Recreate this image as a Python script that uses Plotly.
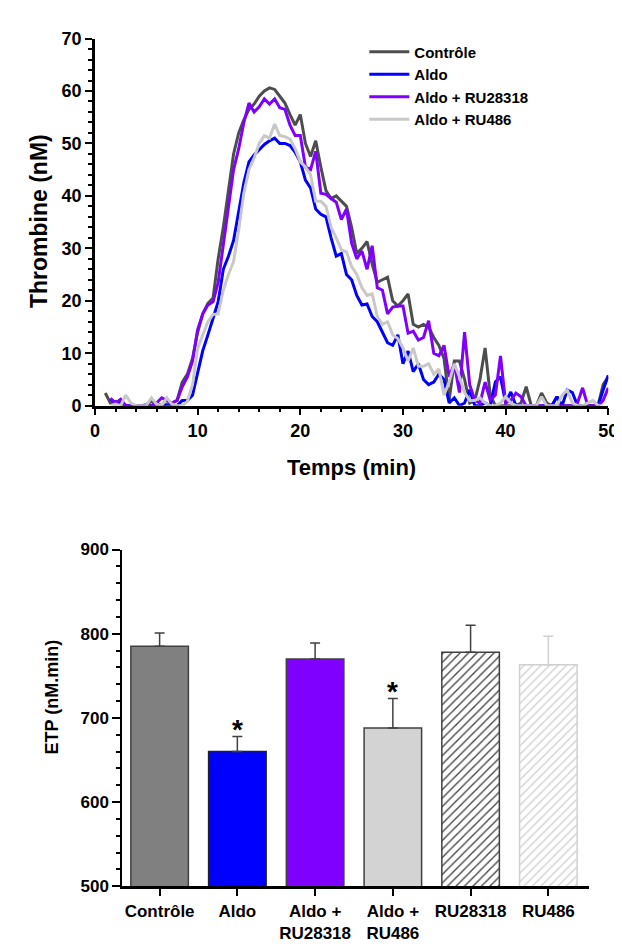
import plotly.graph_objects as go

# ---------------- DATA ----------------
# Thrombin generation curves (nM), sampled every 0.5 min from 1.0 to 50.0 min
temps = [1.0 + 0.5 * i for i in range(99)]

controle = [
    2.4, 0.5, 0.8, 0.3, 0, 0, 0, 0, 0.2, 0.8,
    0.3, 0, 0.3, 0.5, 1.0, 4.5, 6.0, 9.0, 14.0, 17.5,
    19.5, 20.5, 28.0, 34.0, 41.0, 48.0, 52.0, 54.5, 56.5, 57.5,
    59.0, 60.0, 60.6, 60.3, 59.0, 57.7, 55.5, 53.5, 55.5, 50.0,
    47.5, 50.5, 45.5, 41.0, 39.5, 40.0, 39.0, 38.0, 34.0, 29.0,
    30.0, 31.3, 27.0, 23.5, 24.0, 24.5, 20.0, 19.0, 20.0, 21.3,
    15.5, 15.0, 15.5, 15.0, 13.0, 11.5, 9.0, 1.0, 8.5, 8.5,
    5.0, 0.5, 1.0, 5.0, 11.0, 2.0, 0, 0, 0, 0,
    0, 0.5, 3.6, 0, 0, 2.4, 0.5, 0, 1.7, 0,
    0, 0, 0, 0, 0, 0, 0, 4.0, 5.5,
]
aldo = [
    None, 1.3, 0.5, 1.0, 0, 0, 0, 0, 0, 0,
    0.3, 0, 0, 0, 0, 1.0, 1.0, 2.0, 6.5, 10.5,
    13.5, 16.5, 19.8, 26.0, 28.5, 31.5, 37.0, 42.5, 46.5, 47.8,
    48.8, 49.8, 50.5, 51.0, 50.0, 50.0, 49.6, 48.3, 46.5, 43.0,
    41.5, 37.5, 36.5, 36.0, 32.0, 28.5, 29.0, 25.0, 24.0, 21.0,
    19.2, 19.4, 17.0, 16.0, 14.0, 12.0, 11.5, 13.5, 8.0, 10.4,
    6.5, 8.0, 5.0, 4.0, 4.5, 6.0, 5.0, 0.5, 1.5, 0,
    0.5, 3.0, 0, 0, 0.5, 0, 4.5, 5.5, 0.5, 2.6,
    0, 0, 0, 0, 0, 0, 0, 0, 1.7, 0,
    3.0, 2.5, 0, 0, 0, 0, 0, 3.0, 5.8,
]
aldo_ru28318 = [
    None, 1.4, 0.5, 1.2, 0, 0, 0, 0, 0, 0,
    0.5, 1.5, 1.0, 0.5, 1.0, 3.6, 5.5, 8.5, 14.5, 17.5,
    19.2, 19.8, 23.5, 31.0, 38.0, 45.0, 49.0, 54.0, 57.7, 56.0,
    57.0, 58.5, 57.5, 58.5, 56.8, 56.5, 53.5, 51.5, 51.5, 45.5,
    45.0, 48.5, 40.5, 40.3, 39.5, 38.8, 35.5, 37.5, 31.0, 28.0,
    29.5, 26.0, 30.5, 22.5, 22.0, 17.5, 18.8, 19.0, 19.0, 13.8,
    14.2, 12.5, 13.0, 16.2, 10.0, 9.5, 11.5, 5.5, 8.0, 2.5,
    14.0, 4.0, 1.0, 0.5, 4.5, 1.0, 2.0, 9.5, 0.5, 1.0,
    2.4, 1.7, 0, 0, 0, 0, 0, 0, 0, 0,
    0, 0, 0.5, 3.4, 0, 0, 0, 1.0, 3.4,
]
aldo_ru486 = [
    None, 0, 0.3, 0, 2.0, 0.5, 0, 0, 0, 1.5,
    0.3, 0, 1.5, 0.3, 0, 0, 0.8, 4.0, 10.8, 13.5,
    16.0, 17.4, 17.5, 22.0, 25.0, 27.5, 33.5, 40.5, 45.0, 47.2,
    50.0, 51.5, 51.0, 53.7, 51.5, 51.3, 50.8, 49.0, 46.5, 45.5,
    44.0, 39.0, 39.0, 38.0, 34.0, 32.0, 29.7, 29.3, 26.5, 25.0,
    22.5, 21.0, 21.3, 17.0, 15.5, 16.0, 13.5, 12.8, 11.0, 8.5,
    11.0, 7.5, 7.5, 8.0, 6.0, 7.0, 2.0, 4.5, 8.0, 5.5,
    2.5, 1.0, 1.0, 1.5, 0.5, 0, 0, 0.5, 1.7, 0.5,
    0, 0, 0, 0, 0, 1.7, 0, 0, 0, 2.0,
    3.0, 0.5, 0, 0, 0.5, 1.0, 0, 0, None,
]
curve_names = ["Contrôle", "Aldo", "Aldo + RU28318", "Aldo + RU486"]

# ETP bar chart (nM.min)
etp_categories = ["Contrôle", "Aldo", "Aldo +<br>RU28318", "Aldo +<br>RU486", "RU28318", "RU486"]
etp_means = [785, 660, 770, 688, 778, 763]
etp_sem = [16, 18, 19, 35, 32, 34]
etp_significant = [False, True, False, True, False, False]

# ---------------- STYLE ----------------
FONT = "Liberation Sans, Arial, sans-serif"
curve_colors = ["#4D4D4D", "#0000FF", "#8000FF", "#C8C8C8"]
bar_fill = ["#808080", "#0000FF", "#8000FF", "#D3D3D3", "white", "white"]
bar_line = ["#404040", "#202020", "#404040", "#404040", "#404040", "#D0D0D0"]
bar_pattern = ["", "", "", "", "/", "/"]
bar_pattern_color = ["#404040"] * 5 + ["#D0D0D0"]
err_color = ["#404040"] * 5 + ["#D0D0D0"]

W, H = 622, 948
def px_x(p):
    return p / W
def px_y(p):
    return (H - p) / H

fig = go.Figure()

for name, ys, col in zip(curve_names, [controle, aldo, aldo_ru28318, aldo_ru486], curve_colors):
    fig.add_trace(go.Scatter(x=temps, y=ys, mode="lines", name=name,
                             line=dict(color=col, width=3),
                             xaxis="x", yaxis="y"))

for i, cat in enumerate(etp_categories):
    fig.add_trace(go.Bar(
        x=[cat], y=[etp_means[i]], width=0.74, showlegend=False,
        xaxis="x2", yaxis="y2",
        marker=dict(color=bar_fill[i],
                    line=dict(color=bar_line[i], width=1.5),
                    pattern=dict(shape=bar_pattern[i], fgcolor=bar_pattern_color[i],
                                 bgcolor="white", size=6, solidity=0.22,
                                 fillmode="replace") if bar_pattern[i] else None),
        error_y=dict(type="data", symmetric=False, array=[etp_sem[i]], arrayminus=[0],
                     color=err_color[i], thickness=1.5, width=5),
    ))

annotations = []
for i, cat in enumerate(etp_categories):
    if etp_significant[i]:
        annotations.append(dict(x=cat, y=etp_means[i] + etp_sem[i], xref="x2", yref="y2",
                                text="*", showarrow=False, yanchor="middle", yshift=7,
                                font=dict(family=FONT, size=28, color="black", weight="bold")))

annotations += [
    dict(x=px_x(347), y=px_y(459), xref="paper", yref="paper", text="Temps (min)",
         showarrow=False, xanchor="center", yanchor="middle",
         font=dict(family=FONT, size=22, color="black", weight="bold")),
    dict(x=px_x(26), y=px_y(207), xref="paper", yref="paper", text="Thrombine (nM)",
         showarrow=False, xanchor="center", yanchor="middle", textangle=-90,
         font=dict(family=FONT, size=23, color="black", weight="bold")),
    dict(x=px_x(40), y=px_y(694), xref="paper", yref="paper", text="ETP (nM.min)",
         showarrow=False, xanchor="center", yanchor="middle", textangle=-90,
         font=dict(family=FONT, size=18, color="black", weight="bold")),
]

axis_common = dict(showline=True, linecolor="black", showgrid=False, zeroline=False,
                   ticks="outside", tickcolor="black", color="black")

fig.update_layout(
    width=W, height=H,
    margin=dict(l=0, r=0, t=0, b=0),
    paper_bgcolor="white", plot_bgcolor="white",
    barmode="overlay",
    font=dict(family=FONT, color="black"),
    xaxis=dict(domain=[px_x(84), px_x(610)], range=[0, 50], dtick=10, anchor="y",
               linewidth=2.5, ticklen=7, tickwidth=2,
               tickfont=dict(family=FONT, size=18, weight="bold"),
               minor=dict(dtick=2, ticks="outside", ticklen=4, tickwidth=1.5, tickcolor="black"),
               **axis_common),
    yaxis=dict(domain=[px_y(396), px_y(21)], range=[0, 70], dtick=10, anchor="x",
               linewidth=2.5, ticklen=7, tickwidth=2,
               tickfont=dict(family=FONT, size=18, weight="bold"),
               minor=dict(dtick=2, ticks="outside", ticklen=4, tickwidth=1.5, tickcolor="black"),
               **axis_common),
    xaxis2=dict(domain=[px_x(112), px_x(590)], range=[-0.48, 5.52], anchor="y2",
                type="category", linewidth=3, ticklen=7, tickwidth=2,
                tickfont=dict(family=FONT, size=17, weight="bold"),
                **axis_common),
    yaxis2=dict(domain=[px_y(887), px_y(543)], range=[500, 900], dtick=100, anchor="x2",
                linewidth=2, ticklen=8, tickwidth=2,
                tickfont=dict(family=FONT, size=17, weight="bold"),
                minor=dict(dtick=20, ticks="outside", ticklen=4, tickwidth=1.5, tickcolor="black"),
                **axis_common),
    legend=dict(x=px_x(360), y=px_y(18), xanchor="left", yanchor="top",
                bgcolor="rgba(0,0,0,0)", borderwidth=0, itemwidth=40, tracegroupgap=0,
                font=dict(family=FONT, size=15, color="black", weight="bold")),
    annotations=annotations,
)

fig.write_html("out.html")
